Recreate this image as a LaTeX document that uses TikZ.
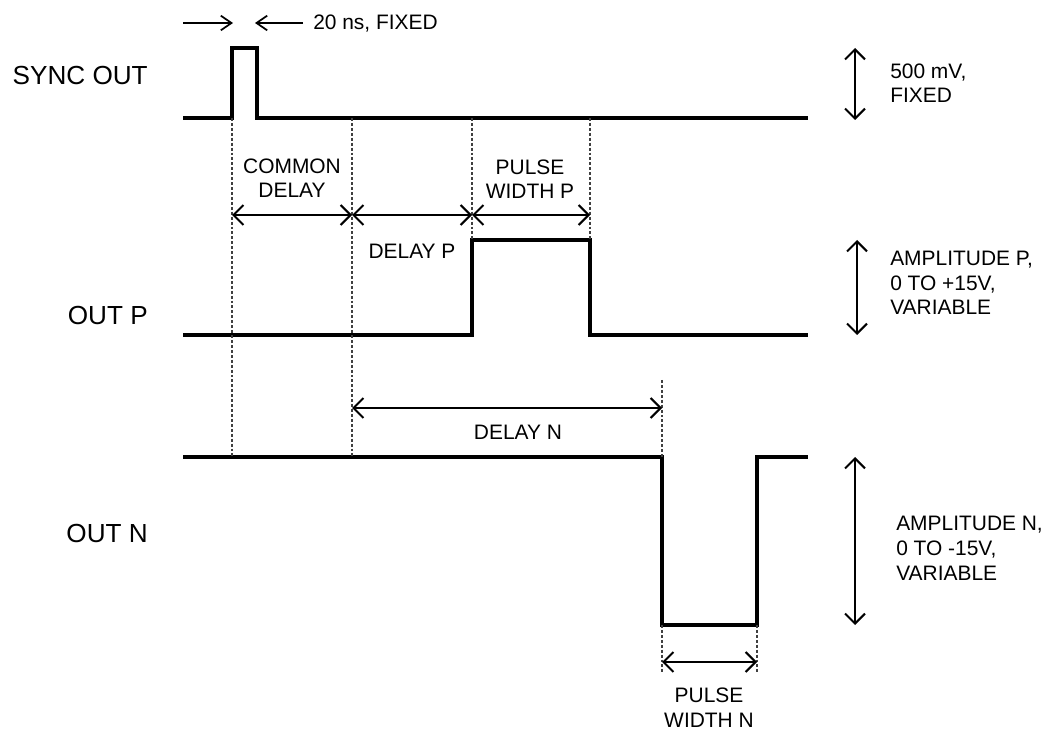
\documentclass[tikz,border=0pt]{standalone}
\usepackage{fontspec}
\setmainfont{Liberation Sans}
\usepackage{tikz}
\usetikzlibrary{arrows.meta}

\begin{document}
\begin{tikzpicture}[x=0.75pt, y=-0.75pt,
  sig/.style={line width=2.8pt, line join=miter},
  dim/.style={{Straight Barb[length=7.5pt,width=15pt]}-{Straight Barb[length=7.5pt,width=15pt]}, line width=1.5pt},
  tip/.style={-{Straight Barb[length=8pt,width=11pt]}, line width=1.3pt},
  guide/.style={dash pattern=on 2.2pt off 1.5pt, line width=0.8pt, black!75},
  lbl/.style={font=\fontsize{19.6}{22}\selectfont, anchor=base east, inner sep=0pt},
  txt/.style={font=\fontsize{15.7}{18.6}\selectfont, align=center, inner sep=0pt}]
  \useasboundingbox (0,0) rectangle (1041,730);

  % waveforms
  \draw[sig] (183,118) -- (232,118) -- (232,48) -- (257,48) -- (257,118) -- (808,118);
  \draw[sig] (183,335) -- (472,335) -- (472,240) -- (590,240) -- (590,335) -- (808,335);
  \draw[sig] (183,457) -- (662,457) -- (662,625) -- (757,625) -- (757,457) -- (808,457);

  % time marks
  \coordinate (a0) at (232,215); \coordinate (a1) at (352,215);
  \coordinate (a2) at (472,215); \coordinate (a3) at (590,215);
  \coordinate (b0) at (352,408); \coordinate (b1) at (662,408);
  \coordinate (n0) at (662,662); \coordinate (n1) at (757,662);
  \draw[guide] (232,118) -- (232,457); \draw[guide] (352,118) -- (352,457);
  \draw[guide] (472,118) -- (472,240); \draw[guide] (590,118) -- (590,240);
  \draw[guide] (662,380) -- (662,457);
  \draw[guide] (662,625) -- (662,672); \draw[guide] (757,625) -- (757,672);
  \draw[dim] (a0) -- (a1); \draw[dim] (a1) -- (a2); \draw[dim] (a2) -- (a3);
  \draw[dim] (b0) -- (b1);
  \draw[dim] (n0) -- (n1);

  % 20 ns
  \coordinate (p0) at (183,23); \coordinate (p1) at (233,23);
  \coordinate (q0) at (303,23); \coordinate (q1) at (255,23);
  \draw[tip] (p0) -- (p1); \draw[tip] (q0) -- (q1);

  % amplitudes
  \coordinate (s0) at (855,48);  \coordinate (s1) at (855,120);
  \coordinate (u0) at (857,240); \coordinate (u1) at (857,335);
  \coordinate (v0) at (855,457); \coordinate (v1) at (855,625);
  \draw[dim] (s0) -- (s1); \draw[dim] (u0) -- (u1); \draw[dim] (v0) -- (v1);

  % labels (base = last line)
  \node[lbl] (so) at (148,85) {SYNC OUT};
  \node[lbl] (op) at (148,325) {OUT P};
  \node[lbl] (on) at (148,542) {OUT N};
  \node[txt, anchor=base west] (fx) at (313,30) {20 ns, FIXED};
  \node[txt, anchor=base] (cd) at (292,198) {COMMON\\DELAY};
  \node[txt, anchor=base] (pwp) at (530,199) {PULSE\\WIDTH P};
  \node[txt, anchor=base] (dp) at (412,259) {DELAY P};
  \node[txt, anchor=base] (dn) at (518,439) {DELAY N};
  \node[txt, anchor=base] (pwn) at (709,727) {PULSE\\WIDTH N};
  \node[txt, align=left, anchor=base west] (as) at (890,103) {500 mV,\\FIXED};
  \node[txt, align=left, anchor=base west] (ap) at (890,315) {AMPLITUDE P,\\0 TO +15V,\\VARIABLE};
  \node[txt, align=left, anchor=base west] (an) at (896,580) {AMPLITUDE N,\\0 TO -15V,\\VARIABLE};
\end{tikzpicture}
\end{document}
